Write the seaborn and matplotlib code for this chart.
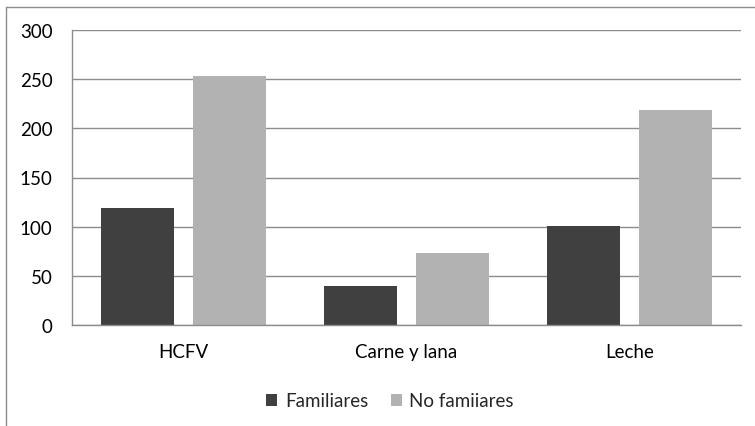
import matplotlib
matplotlib.use("Agg")
import matplotlib.pyplot as plt
from matplotlib.lines import Line2D
from matplotlib.patches import Patch
import seaborn as sns
import pandas as pd

categories = ["HCFV", "Carne y lana", "Leche"]
series_names = ["Familiares", "No famiiares"]
familiares = [119, 40, 101]
no_familiares = [253, 73, 219]
y_ticks = [0, 50, 100, 150, 200, 250, 300]

df = pd.DataFrame({
    "categoria": categories * 2,
    "serie": [series_names[0]] * 3 + [series_names[1]] * 3,
    "valor": familiares + no_familiares,
})

sns.set_theme(style="white")
plt.rcParams["font.family"] = ["Lato", "DejaVu Sans"]

colors = ["#404040", "#b2b2b2"]
fs = 13.5

fig = plt.figure(figsize=(7.55, 4.27), dpi=100)
ax = fig.add_axes([72 / 755, 1 - 326 / 427, (741 - 72) / 755, (326 - 31) / 427])

sns.barplot(data=df, x="categoria", y="valor", hue="serie", order=categories,
            hue_order=series_names, palette=colors, width=0.825, gap=0.196,
            saturation=1, edgecolor="none", linewidth=0, ax=ax, legend=False)

ax.set_ylim(0, 300)
ax.set_xlim(-0.5, 2.5)
ax.set_yticks(y_ticks)
ax.set_yticklabels([str(v) for v in y_ticks])
ax.set_xlabel("")
ax.set_ylabel("")
ax.yaxis.grid(True, color="#8c8c8c", linewidth=1.0)
ax.set_axisbelow(True)
for s in ["top", "right"]:
    ax.spines[s].set_visible(False)
ax.spines["left"].set_color("#8c8c8c")
ax.spines["bottom"].set_color("#8c8c8c")
ax.spines["left"].set_linewidth(1.0)
ax.spines["bottom"].set_linewidth(1.0)
ax.tick_params(axis="both", length=0, labelsize=fs, colors="#000000")
ax.tick_params(axis="y", pad=14)
ax.tick_params(axis="x", pad=13)

handles = [Patch(facecolor=c, edgecolor="none") for c in colors]
fig.legend(handles, series_names, loc="center", bbox_to_anchor=(390 / 755, 1 - 402 / 427),
           ncol=2, frameon=False, fontsize=fs, handlelength=0.6, handleheight=0.6,
           handletextpad=0.4, columnspacing=1.2)

# chart frame
fig.add_artist(Line2D([5.5 / 755, 5.5 / 755], [0, 1 - 8 / 427], transform=fig.transFigure,
                      color="#8c8c8c", linewidth=1.0))
fig.add_artist(Line2D([5.5 / 755, 1], [1 - 8 / 427, 1 - 8 / 427], transform=fig.transFigure,
                      color="#8c8c8c", linewidth=1.0))

fig.savefig("out.png", dpi=100, facecolor="white")
